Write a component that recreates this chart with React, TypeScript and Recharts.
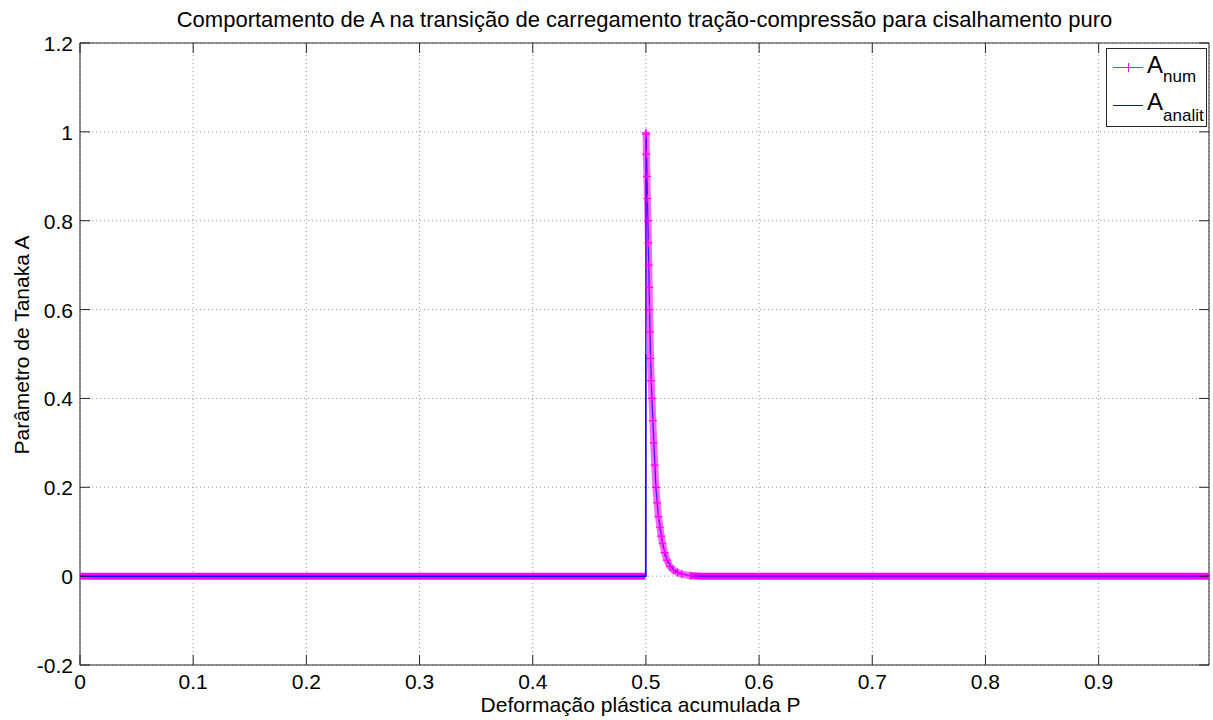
import React from "react";
import { LineChart, Line, XAxis, YAxis, CartesianGrid, ReferenceArea } from "recharts";

const FONT = "'Liberation Sans', Arial, Helvetica, sans-serif";
const W = 1213;
const H = 720;
// plot box edges (px)
const TOP = 43;
const BOTTOM = 665;
const LEFT = 80;
const RIGHT = 1209;

const X_MAX = 0.9975;
const xTicks = [0, 0.1, 0.2, 0.3, 0.4, 0.5, 0.6, 0.7, 0.8, 0.9];
const yTicks = [-0.2, 0, 0.2, 0.4, 0.6, 0.8, 1, 1.2];
const yTickLabels = ["-0.2", "0", "0.2", "0.4", "0.6", "0.8", "1", "1.2"];

// A_num (numerical): flat, jump at P = 0.5, fast decay back to zero
const numP = [
  0, 0.4995, 0.5, 0.5002, 0.5004, 0.5009, 0.5013, 0.5018, 0.5022, 0.5025, 0.5029, 0.5032,
  0.5036, 0.5041, 0.5047, 0.5053, 0.5061, 0.5069, 0.5078, 0.5088, 0.5099, 0.5111, 0.5124,
  0.5135, 0.5147, 0.5165, 0.5186, 0.5212, 0.5244, 0.5280, 0.5318, 0.5392, 0.55, X_MAX,
];
const numA = [
  0, 0, 0.998, 0.995, 0.95, 0.9, 0.85, 0.8, 0.75, 0.7, 0.65, 0.6,
  0.55, 0.49, 0.44, 0.4, 0.35, 0.3, 0.25, 0.2, 0.165, 0.134, 0.11,
  0.09, 0.074, 0.053, 0.036, 0.022, 0.0135, 0.008, 0.0045, 0.001, 0, 0,
];

// A_analit (analytical)
const analitP = [
  0, 0.5, 0.5, 0.5002, 0.50177, 0.5032, 0.5041, 0.5053, 0.5088, 0.5111, 0.5147, 0.5186,
  0.5244, 0.5318, 0.5392, 0.55, X_MAX,
];
const analitA = [
  0, 0, 0.5, 0.998, 0.8, 0.6, 0.49, 0.4, 0.2, 0.134, 0.074, 0.036,
  0.0135, 0.0045, 0.001, 0, 0,
];

const toRows = (ps: number[], as: number[]) => ps.map((p, i) => ({ p, A: as[i] }));
const numRows = toRows(numP, numA);
const numFlatLeft = numRows.slice(0, 2);
const numJump = numRows.slice(1, 3);
const numDecay = numRows.slice(2, numRows.length - 2);
const numFlatRight = numRows.slice(numRows.length - 3);
const analitRows = toRows(analitP, analitA);
const analitLow = analitRows.slice(0, 3);
const analitRest = analitRows.slice(2);

const MAGENTA = "#ff00ff";
const BLUE = "#0000ff";
const FRAME = "#262626";

function XTick(props: any) {
  const { x, payload } = props;
  const v = payload.value as number;
  return (
    <g>
      <line x1={x} x2={x} y1={BOTTOM} y2={BOTTOM - 10} stroke={FRAME} />
      <line x1={x} x2={x} y1={TOP} y2={TOP + 10} stroke={FRAME} />
      <text x={x} y={BOTTOM + 24} textAnchor="middle" fontSize={21} fill="#000" fontFamily={FONT}>
        {v === 0 ? "0" : String(v)}
      </text>
    </g>
  );
}

function YTick(props: any) {
  const { y, payload, index } = props;
  return (
    <g>
      <line x1={LEFT} x2={LEFT + 10} y1={y} y2={y} stroke={FRAME} />
      <line x1={RIGHT} x2={RIGHT - 10} y1={y} y2={y} stroke={FRAME} />
      <text x={LEFT - 7} y={y + 8} textAnchor="end" fontSize={21} fill="#000" fontFamily={FONT}>
        {yTickLabels[index] ?? String(payload.value)}
      </text>
    </g>
  );
}

function PlusDot(props: any) {
  const { cx, cy, index } = props;
  if (cx == null || cy == null) return <g key={`d-${index}`} />;
  return (
    <path
      key={`d-${index}`}
      d={`M${cx - 4},${cy}h8M${cx},${cy - 4}v8`}
      stroke={MAGENTA}
      strokeWidth={1.2}
      fill="none"
    />
  );
}

function LegendBox() {
  return (
    <svg
      width={102}
      height={80}
      style={{ position: "absolute", left: 1106, top: 48, overflow: "visible" }}
    >
      <rect x={0.5} y={0.5} width={100} height={78} fill="#fff" stroke={FRAME} />
      <line x1={7} x2={37} y1={19.5} y2={19.5} stroke={MAGENTA} />
      <path d="M22.5,15v9M18,19.5h9" stroke={MAGENTA} />
      <text x={41} y={25} fontSize={24} fontFamily={FONT} fill="#000">
        A
        <tspan fontSize={17} dy={9}>num</tspan>
      </text>
      <line x1={7} x2={37} y1={57.5} y2={57.5} stroke={BLUE} />
      <text x={41} y={62} fontSize={24} fontFamily={FONT} fill="#000">
        A
        <tspan fontSize={17} dy={11}>analit</tspan>
      </text>
    </svg>
  );
}

export default function App() {
  return (
    <div style={{ position: "fixed", left: 0, top: 0, width: W, height: H, background: "#fff" }}>
      <LineChart
        width={W}
        height={H}
        margin={{ top: TOP, right: W - RIGHT, bottom: 0, left: 0 }}
      >
        <CartesianGrid stroke="#9a9a9a" strokeDasharray="1 3" />
        <XAxis
          dataKey="p"
          type="number"
          domain={[0, X_MAX]}
          ticks={xTicks}
          tick={<XTick />}
          tickLine={false}
          axisLine={false}
          height={H - BOTTOM}
          interval={0}
          allowDataOverflow
        />
        <YAxis
          type="number"
          domain={[-0.2, 1.2]}
          ticks={yTicks}
          tick={<YTick />}
          tickLine={false}
          axisLine={false}
          width={LEFT}
          interval={0}
          allowDataOverflow
        />
        <Line data={numFlatLeft} dataKey="A" stroke={MAGENTA} strokeWidth={7} dot={false} isAnimationActive={false} />
        <Line data={numFlatRight} dataKey="A" stroke={MAGENTA} strokeWidth={7} dot={false} isAnimationActive={false} />
        <Line data={numJump} dataKey="A" stroke={MAGENTA} strokeWidth={1} dot={false} isAnimationActive={false} />
        <Line
          data={numDecay}
          dataKey="A"
          stroke={MAGENTA}
          strokeOpacity={0.6}
          strokeWidth={7}
          dot={<PlusDot />}
          isAnimationActive={false}
        />
        <Line data={analitLow} dataKey="A" stroke={BLUE} strokeWidth={1.5} dot={false} isAnimationActive={false} />
        <Line data={analitRest} dataKey="A" stroke={BLUE} strokeOpacity={0.75} strokeWidth={1.3} dot={false} isAnimationActive={false} />
        <ReferenceArea x1={0} x2={X_MAX} y1={-0.2} y2={1.2} fill="none" stroke={FRAME} strokeWidth={1} fillOpacity={0} />
        <text x={(LEFT + RIGHT) / 2} y={27} textAnchor="middle" fontSize={22} fontFamily={FONT} fill="#000">
          Comportamento de A na transição de carregamento tração-compressão para cisalhamento puro
        </text>
        <text x={(LEFT + RIGHT) / 2 - 4} y={712} textAnchor="middle" fontSize={21} fontFamily={FONT} fill="#000">
          Deformação plástica acumulada P
        </text>
        <text
          x={29}
          y={345}
          transform="rotate(-90 29 345)"
          textAnchor="middle"
          fontSize={21}
          fontFamily={FONT}
          fill="#000"
        >
          Parâmetro de Tanaka A
        </text>
      </LineChart>
      <LegendBox />
    </div>
  );
}
